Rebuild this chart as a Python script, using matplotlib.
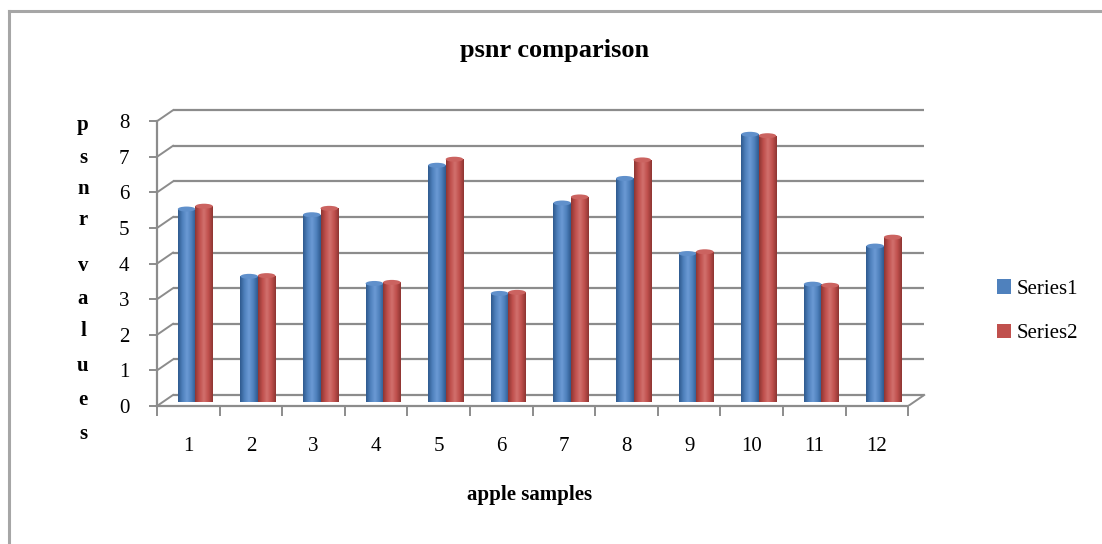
import matplotlib
matplotlib.use("Agg")
import matplotlib.pyplot as plt
import numpy as np
from matplotlib.colors import LinearSegmentedColormap
from matplotlib.patches import Ellipse

plt.rcParams['font.family'] = ['Liberation Serif', 'DejaVu Serif']

samples = [str(i) for i in range(1, 13)]
series1 = [5.42, 3.53, 5.26, 3.33, 6.65, 3.05, 5.59, 6.28, 4.17, 7.52, 3.31, 4.38]
series2 = [5.50, 3.55, 5.44, 3.36, 6.82, 3.08, 5.76, 6.80, 4.22, 7.48, 3.28, 4.63]
yticks = list(range(0, 9))

blue = '#4F81BD'
red = '#C0504D'
grid_col = '#8c8c8c'

W, H = 1102, 544
fig = plt.figure(figsize=(W / 100, H / 100), dpi=100)

# plot area in pixels (front plane)
left_px, floor_px = 157, 406
cat_px, unit_px = 62.6, 35.6
xmin, xmax = -0.5, 12.0
ymin, ymax = 0.0, 8.7
ax = fig.add_axes([left_px / W, (H - floor_px) / H,
                   (xmax - xmin) * cat_px / W, (ymax - ymin) * unit_px / H])
ax.set_xlim(xmin, xmax)
ax.set_ylim(ymin, ymax)

# 3d-ish depth offsets
back_dx, back_dy = 16 / cat_px, 11 / unit_px
bar_dx, bar_dy = 7 / cat_px, 4 / unit_px
bw = 17.5 / cat_px
n = len(samples)
x = np.arange(n)

# back wall gridlines and side diagonals
for v in yticks:
    ax.plot([-0.5 + back_dx, n - 0.5 + back_dx], [v + back_dy, v + back_dy],
            color=grid_col, lw=1.6, zorder=1, solid_capstyle='butt')
    ax.plot([-0.5, -0.5 + back_dx], [v, v + back_dy], color=grid_col, lw=1.4, zorder=1)
ax.plot([n - 0.5, n - 0.5 + back_dx], [0, back_dy], color=grid_col, lw=1.4, zorder=1)


def shade_cmap(base, light, dark):
    return LinearSegmentedColormap.from_list('c', [dark, base, light, base, dark])


cmaps = [shade_cmap(blue, '#6b9ad4', '#2f5a8e'), shade_cmap(red, '#d2706d', '#8e3532')]
grad = np.linspace(0, 1, 64).reshape(1, -1)

for k, (vals, col, name) in enumerate([(series1, blue, 'Series1'), (series2, red, 'Series2')]):
    xpos = x + bar_dx + (k - 0.5) * bw
    bars = ax.bar(xpos, vals, width=bw, bottom=bar_dy, color=col, label=name,
                  edgecolor='none', zorder=3)
    for b, xc, h in zip(bars, xpos, vals):
        im = ax.imshow(grad, cmap=cmaps[k], aspect='auto', zorder=3,
                       extent=(xc - bw / 2, xc + bw / 2, bar_dy, bar_dy + h))
        im.set_clip_path(b)
        ax.add_patch(Ellipse((xc, bar_dy + h), bw, 0.14, facecolor=cmaps[k](0.6),
                             edgecolor='none', zorder=4))

ax.set_xlim(xmin, xmax)
ax.set_ylim(ymin, ymax)

# front axes
for s in ['top', 'right']:
    ax.spines[s].set_visible(False)
ax.spines['left'].set_bounds(0, 8)
ax.spines['bottom'].set_bounds(-0.5, n - 0.5)
for s in ['left', 'bottom']:
    ax.spines[s].set_color(grid_col)
    ax.spines[s].set_linewidth(1.6)
ax.set_yticks(yticks)
ax.set_yticklabels([str(v) for v in yticks], fontsize=15)
ax.set_xticks(np.arange(-0.5, n, 1.0))
ax.set_xticklabels([])
ax.set_xticks(x, minor=True)
ax.set_xticklabels(samples, minor=True, fontsize=15)
ax.tick_params(axis='y', length=6, width=1.4, color=grid_col, pad=14)
ax.tick_params(axis='x', which='major', length=7, width=1.4, color=grid_col)
ax.tick_params(axis='x', which='minor', length=0, pad=22)
ax.patch.set_visible(False)

# titles
fig.text(555 / W, 1 - 50 / H, 'psnr comparison', ha='center', va='center',
         fontsize=19, fontweight='bold')
fig.text(530 / W, 1 - 495 / H, 'apple samples', ha='center', va='center',
         fontsize=15, fontweight='bold')
ylab_pos = [125, 158, 189, 220, 266, 299, 331, 366, 400, 434]
for ch, yp in zip('psnrvalues', ylab_pos):
    fig.text(83 / W, 1 - yp / H, ch, ha='center', va='center', fontsize=15, fontweight='bold')

fig.legend(loc='center left', bbox_to_anchor=(978 / W, 1 - 311 / H), frameon=False,
           fontsize=15, handlelength=0.7, handleheight=0.7, handletextpad=0.25,
           labelspacing=1.2)

# chart area border (left and top edges visible)
fig.add_artist(plt.Line2D([9 / W, 9 / W], [0, 1 - 11 / H], transform=fig.transFigure,
                          color='#a6a6a6', lw=2.2))
fig.add_artist(plt.Line2D([9 / W, 1], [1 - 11 / H, 1 - 11 / H], transform=fig.transFigure,
                          color='#a6a6a6', lw=2.2))

fig.savefig('out.png', dpi=100)
